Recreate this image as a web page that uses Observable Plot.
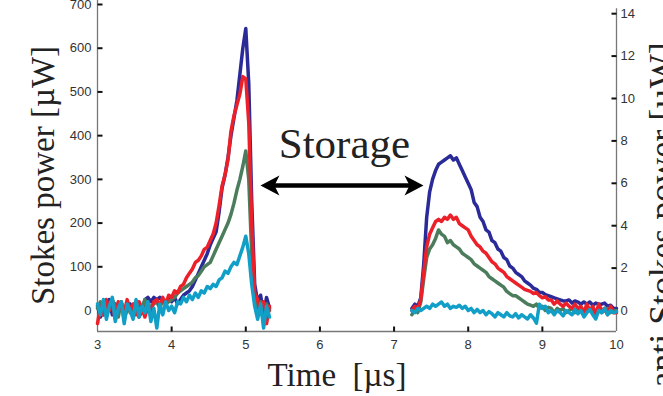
<!DOCTYPE html>
<html><head><meta charset="utf-8">
<script src="https://cdn.jsdelivr.net/npm/d3@7"></script>
<script src="https://cdn.jsdelivr.net/npm/@observablehq/plot@0.6"></script>
<style>body{margin:0;background:#fff}svg{display:block}</style>
</head><body><div id="chart"></div>
<script>
// time grid
const dt = 0.04;
const stokesStart = 3.00;
const antiStart = 7.24;

// Stokes power [µW] (left axis)
const stokesBlue = [10,-15,20,5,25,-10,15,0,20,-20, 5,15,-5,10,-15,0,25,30,20,30, 25,30,20,15,30, 20,30,15,25,35, 40,45,55,70,85, 100,115,130,150,165, 180,225,280,310,350, 400,440,480,540,600, 645,520,250,60,20, 35,-10,30,5];
const stokesRed = [-30,10,-10,25,0,15,-20,20,5,-5, 25,0,15,-10,20,5,-15,10,0,20, 25,10,30,15,35, 30,45,40,55,60, 75,85,95,110,115, 125,140,145,160,175, 200,240,285,310,345, 410,445,470,495,535, 530,430,200,40,25, -5,20,-30,10];
const stokesGreen = [5,20,-10,15,0,25,10,-15,20,0, 15,-5,10,20,-10,5,25,0,10,15, 20,5,25,15,20, 25,30,40,45,50, 55,60,65,75,80, 90,100,105,110,125, 140,155,170,185,200, 220,245,275,300,330, 365,300,130,30,5, 20,-15,15,0];
const stokesCyan = [15,-10,25,-20,10,30,-25,5,20,-30, 15,0,-20,25,-15,10,-5,20,-25,5, -40,15,-10,20,0, 10,-5,20,15,30, 20,35,25,40,30, 45,40,55,50,60, 55,70,75,90,85, 100,110,105,125,145, 170,130,60,10,-20, 15,-40,10,-15];

// anti-Stokes power [µW] (right axis)
const antiBlue = [0.1,0.3,0.2,0.6,2.2,4.4,5.6,6.2,6.6,6.9, 7.0,7.1,7.2,7.3,7.1,7.2,6.9,6.6,6.3,6.0, 5.7,5.1,4.9,4.4,4.2,3.8,3.7,3.3,3.2,2.9, 2.8,2.5,2.4,2.1,2.0,1.8,1.7,1.6,1.4,1.3, 1.2,1.05,1.0,0.85,0.85,0.75,0.7,0.65,0.6,0.55, 0.5,0.45,0.45,0.5,0.35,0.45,0.4,0.3,0.4,0.3, 0.4,0.25,0.35,0.3,0.3,0.35,0.2,0.25,0.1,0.1];
const antiRed = [0.0,0.2,0.1,0.5,1.8,3.0,3.6,3.9,4.2,4.3, 4.2,4.4,4.3,4.5,4.3,4.4,4.1,4.0,3.9,3.8, 3.5,3.3,3.1,3.0,2.8,2.7,2.5,2.3,2.2,2.0, 1.9,1.8,1.6,1.5,1.4,1.3,1.2,1.1,1.0,0.95, 0.9,0.8,0.85,0.7,0.6,0.65,0.5,0.5,0.3,0.45, 0.3,0.2,0.35,0.2,0.1,0.3,0.1,0.2,-0.1,0.3, 0.0,0.2,-0.2,0.3,0.0,0.1,-0.2,0.2,-0.1,-0.1];
const antiGreen = [-0.2,0.1,-0.1,0.4,1.5,2.5,2.9,3.1,3.4,3.8, 3.6,3.5,3.2,3.3,3.1,3.0,2.9,2.7,2.6,2.5, 2.4,2.2,2.1,2.0,1.9,1.8,1.6,1.5,1.4,1.3, 1.2,1.1,0.9,0.8,0.7,0.7,0.6,0.5,0.4,0.3, 0.25,0.2,0.3,0.1,0.2,0.0,0.15,0.1,-0.1,0.1, 0.0,0.1,-0.1,0.0,0.1,-0.1,0.0,0.1,-0.1,0.0, 0.1,-0.1,0.0,0.1,-0.1,0.0,0.1,-0.1,0.0,0.0];
const antiCyan = [0.0,-0.1,0.1,0.0,0.1,0.2,0.1,0.3,0.2,0.3, 0.4,0.2,0.3,0.1,0.2,0.15,0.25,0.1,0.2,0.0, 0.1,-0.1,0.05,-0.1,0.0,-0.2,-0.05,-0.15,-0.3,-0.1, -0.2,-0.3,-0.1,-0.25,-0.3,-0.15,-0.35,-0.2,-0.3,-0.4, -0.2,-0.35,-0.6,0.3,0.1,0.2,-0.1,0.0,-0.2,0.0, -0.1,-0.25,0.0,-0.1,-0.2,0.05,-0.15,0.0,-0.3,-0.1, 0.05,-0.2,-0.4,0.0,-0.1,0.1,-0.2,0.0,-0.1,-0.05];

// ticks
const xTicks = [3,4,5,6,7,8,9,10];
const leftTicks = [0,100,200,300,400,500,600,700];
const rightTicks = [0,2,4,6,8,10,12,14];
const rightFactor = 48.5; // left units per right unit

const colors = {blue:"#2a2a98", red:"#ec2029", green:"#4b7d5d", cyan:"#119fc8"};
const seriesList = [
  ["blue", stokesBlue, antiBlue],
  ["green", stokesGreen, antiGreen],
  ["red", stokesRed, antiRed],
  ["cyan", stokesCyan, antiCyan]
];
const rows = (start, vals, f) => vals.map((v, i) => ({t: start + i * dt, v: v * f}));

const tickSym = (dx0, dy0, w, h) => ({draw(ctx){ ctx.rect(dx0, dy0, w, h); }});
const headL = {draw(ctx){ ctx.moveTo(0,0); ctx.lineTo(19,-10); ctx.lineTo(14,0); ctx.lineTo(19,10); ctx.closePath(); }};
const headR = {draw(ctx){ ctx.moveTo(0,0); ctx.lineTo(-19,-10); ctx.lineTo(-14,0); ctx.lineTo(-19,10); ctx.closePath(); }};

const serif = "Liberation Serif, Times New Roman, serif";
const lineMarks = [];
for (const [name, s, a] of seriesList) {
  lineMarks.push(Plot.line(rows(stokesStart, s, 1), {x:"t", y:"v", stroke: colors[name], strokeWidth: 3.5, strokeLinejoin:"round"}));
  lineMarks.push(Plot.line(rows(antiStart, a, rightFactor), {x:"t", y:"v", stroke: colors[name], strokeWidth: 3.5, strokeLinejoin:"round"}));
}

const chart = Plot.plot({
  width: 663, height: 396,
  marginLeft: 97, marginRight: 47, marginTop: 4, marginBottom: 65,
  x: {domain: [3, 10]},
  y: {domain: [-48, 700]},
  style: {fontFamily: "Liberation Sans, Arial, sans-serif", fontSize: "13px", color: "#222", background: "#fff", overflow: "visible"},
  marks: [
    Plot.ruleX([3], {y1: -48, y2: 730, stroke: "#777", strokeWidth: 1.3}),
    Plot.ruleX([10], {y1: -48, y2: 690, stroke: "#777", strokeWidth: 1.3}),
    Plot.ruleY([-48], {x1: 3, x2: 10, stroke: "#777", strokeWidth: 1.3}),
    Plot.dot(leftTicks, {x: () => 3, y: d => d, symbol: tickSym(0, -1, 5, 2), fill: "#111", stroke: null}),
    Plot.dot(rightTicks, {x: () => 10, y: d => d * rightFactor, symbol: tickSym(-5, -1, 5, 2), fill: "#111", stroke: null}),
    Plot.dot(xTicks.slice(1, -1), {x: d => d, y: () => -48, symbol: tickSym(-1, -5, 2, 5), fill: "#111", stroke: null}),
    Plot.axisX({ticks: xTicks, tickSize: 0, tickPadding: 8, label: null, fill: "#333", fontSize: 13, tickFormat: d => String(d)}),
    Plot.axisY({ticks: leftTicks, anchor: "left", tickSize: 0, tickPadding: 6, label: null, fill: "#333", fontSize: 13, tickFormat: d => String(d)}),
    Plot.axisY({ticks: rightTicks.map(d => d * rightFactor), anchor: "right", tickSize: 0, tickPadding: 4, label: null, fill: "#333", fontSize: 13, tickFormat: d => String(Math.round(d / rightFactor))}),
    ...lineMarks,
    Plot.ruleY([286], {x1: 5.33, x2: 7.27, stroke: "#000", strokeWidth: 4.5}),
    Plot.dot([286], {x: () => 5.198, y: d => d, symbol: headL, fill: "#000", stroke: null}),
    Plot.dot([286], {x: () => 7.397, y: d => d, symbol: headR, fill: "#000", stroke: null}),
    Plot.text(["Storage"], {x: () => 6.33, y: () => 348, lineAnchor: "bottom", textAnchor: "middle", fontSize: 43, fontFamily: serif, fill: "#222"}),
    Plot.text(["Stokes power [µW]"], {frameAnchor: "left", dx: -44, dy: 7.5, rotate: -90, lineAnchor: "bottom", textAnchor: "middle", fontSize: 33, fontFamily: serif, fill: "#222"}),
    Plot.text(["anti Stokes power [µW]"], {frameAnchor: "right", dx: 57, dy: 47, rotate: -90, lineAnchor: "bottom", textAnchor: "middle", fontSize: 36, fontFamily: serif, fill: "#222"}),
    Plot.text(["Time\u2002[µs]"], {frameAnchor: "bottom", dx: -20, dy: 54, lineAnchor: "bottom", textAnchor: "middle", fontSize: 33, fontFamily: serif, fill: "#222"})
  ]
});
document.getElementById("chart").appendChild(chart);
</script>
</body></html>
